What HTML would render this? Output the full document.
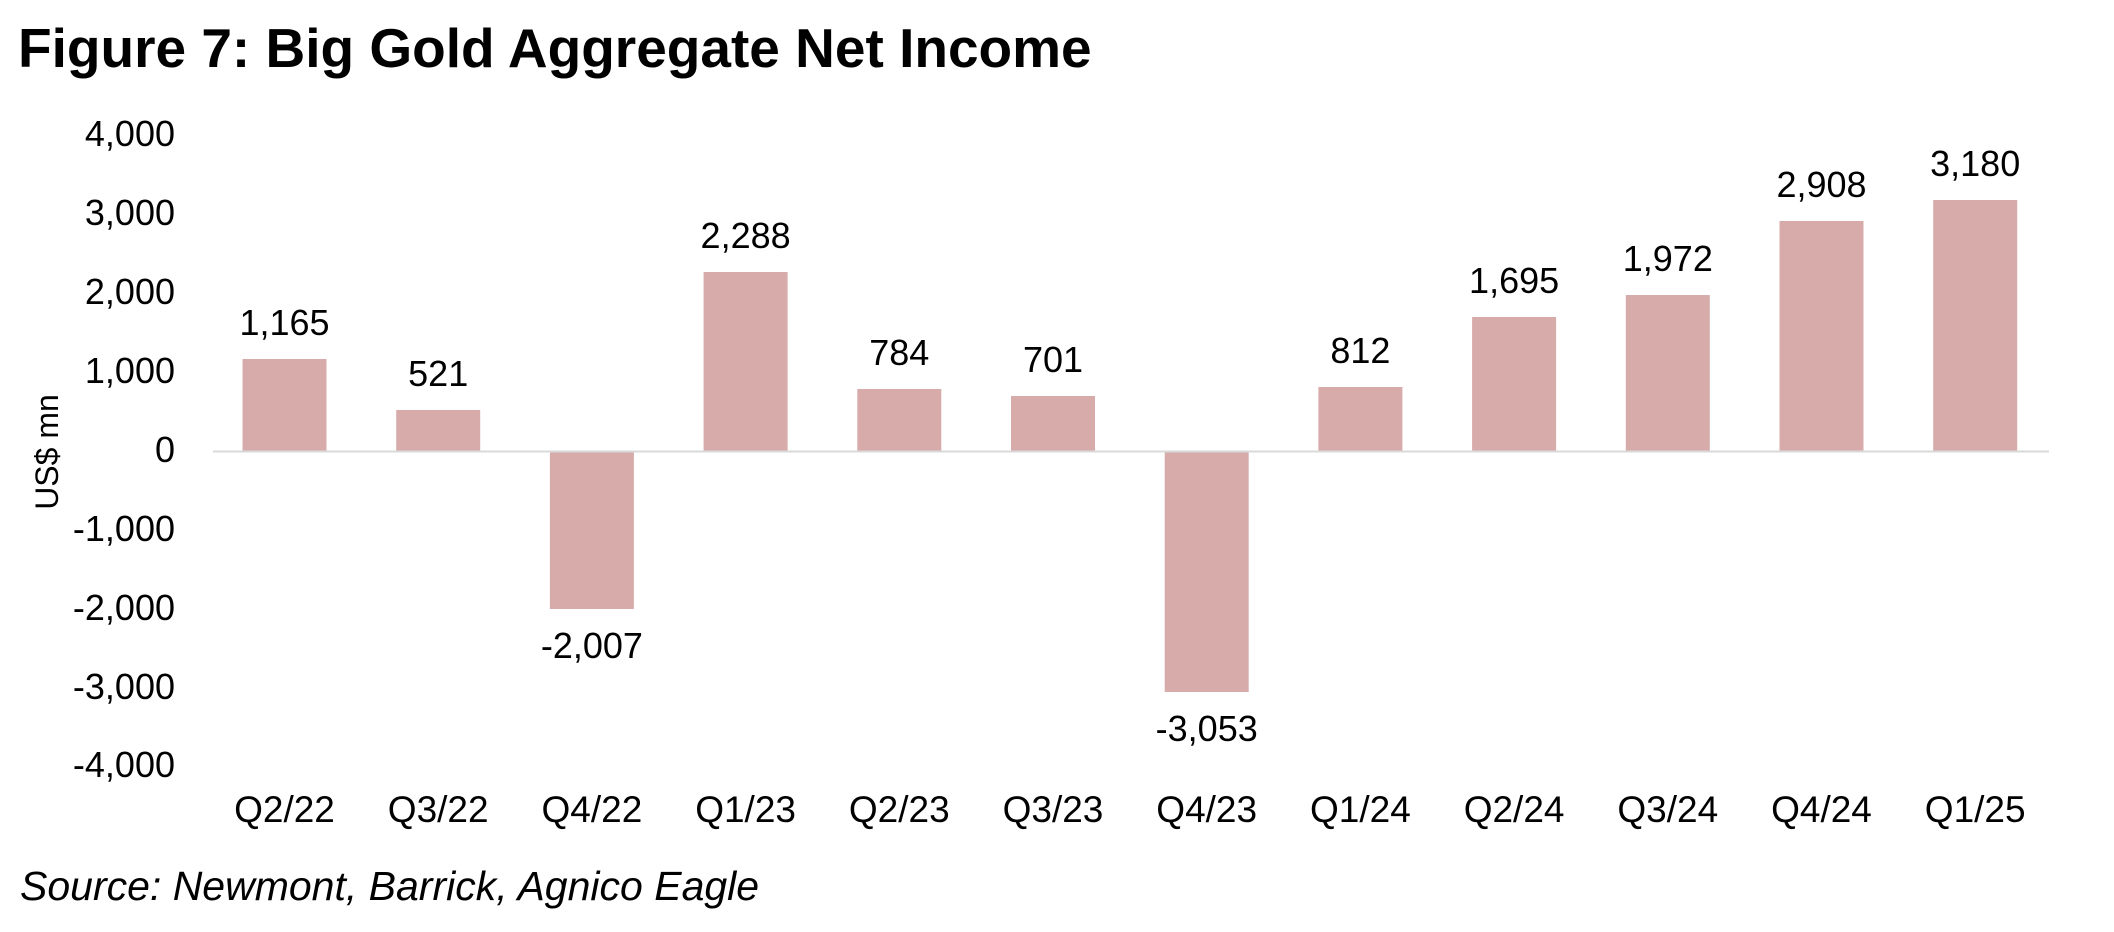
<!DOCTYPE html>
<html><head><meta charset="utf-8"><style>
html,body{margin:0;padding:0;background:#fff;}
svg{display:block;font-family:"Liberation Sans",Arial,sans-serif;}
</style></head><body>
<svg width="2114" height="932" viewBox="0 0 2114 932" xmlns="http://www.w3.org/2000/svg">
<text x="18" y="67" font-size="55" font-weight="bold" fill="#000">Figure 7: Big Gold Aggregate Net Income</text>
<g font-size="36" fill="#000" text-anchor="end">
<text x="175" y="146">4,000</text>
<text x="175" y="225">3,000</text>
<text x="175" y="304">2,000</text>
<text x="175" y="383">1,000</text>
<text x="175" y="462">0</text>
<text x="175" y="541">-1,000</text>
<text x="175" y="620">-2,000</text>
<text x="175" y="699">-3,000</text>
<text x="175" y="777">-4,000</text>
</g>
<text transform="translate(58,452) rotate(-90)" font-size="32" text-anchor="middle">US$ mn</text>
<g fill="#d8abab">
<rect x="242.5" y="359" width="84" height="92"/>
<rect x="396.2" y="410" width="84" height="41"/>
<rect x="549.9" y="451" width="84" height="158"/>
<rect x="703.6" y="272" width="84" height="179"/>
<rect x="857.3" y="389" width="84" height="62"/>
<rect x="1011" y="396" width="84" height="55"/>
<rect x="1164.7" y="451" width="84" height="241"/>
<rect x="1318.4" y="387" width="84" height="64"/>
<rect x="1472.1" y="317" width="84" height="134"/>
<rect x="1625.8" y="295" width="84" height="156"/>
<rect x="1779.5" y="221" width="84" height="230"/>
<rect x="1933.2" y="200" width="84" height="251"/>
</g>
<line x1="213" y1="451.5" x2="2049" y2="451.5" stroke="#d9d9d9" stroke-width="2"/>
<g font-size="36" text-anchor="middle" fill="#000">
<text x="284.5" y="335">1,165</text>
<text x="438.2" y="386">521</text>
<text x="591.9" y="658">-2,007</text>
<text x="745.6" y="248">2,288</text>
<text x="899.3" y="365">784</text>
<text x="1053" y="372">701</text>
<text x="1206.7" y="741">-3,053</text>
<text x="1360.4" y="363">812</text>
<text x="1514.1" y="293">1,695</text>
<text x="1667.8" y="271">1,972</text>
<text x="1821.5" y="197">2,908</text>
<text x="1975.2" y="176">3,180</text>
</g>
<g font-size="37" text-anchor="middle" fill="#000">
<text x="284.5" y="822">Q2/22</text>
<text x="438.2" y="822">Q3/22</text>
<text x="591.9" y="822">Q4/22</text>
<text x="745.6" y="822">Q1/23</text>
<text x="899.3" y="822">Q2/23</text>
<text x="1053" y="822">Q3/23</text>
<text x="1206.7" y="822">Q4/23</text>
<text x="1360.4" y="822">Q1/24</text>
<text x="1514.1" y="822">Q2/24</text>
<text x="1667.8" y="822">Q3/24</text>
<text x="1821.5" y="822">Q4/24</text>
<text x="1975.2" y="822">Q1/25</text>
</g>
<text x="20" y="900" font-size="41" font-style="italic" fill="#000">Source: Newmont, Barrick, Agnico Eagle</text>
</svg>
</body></html>
